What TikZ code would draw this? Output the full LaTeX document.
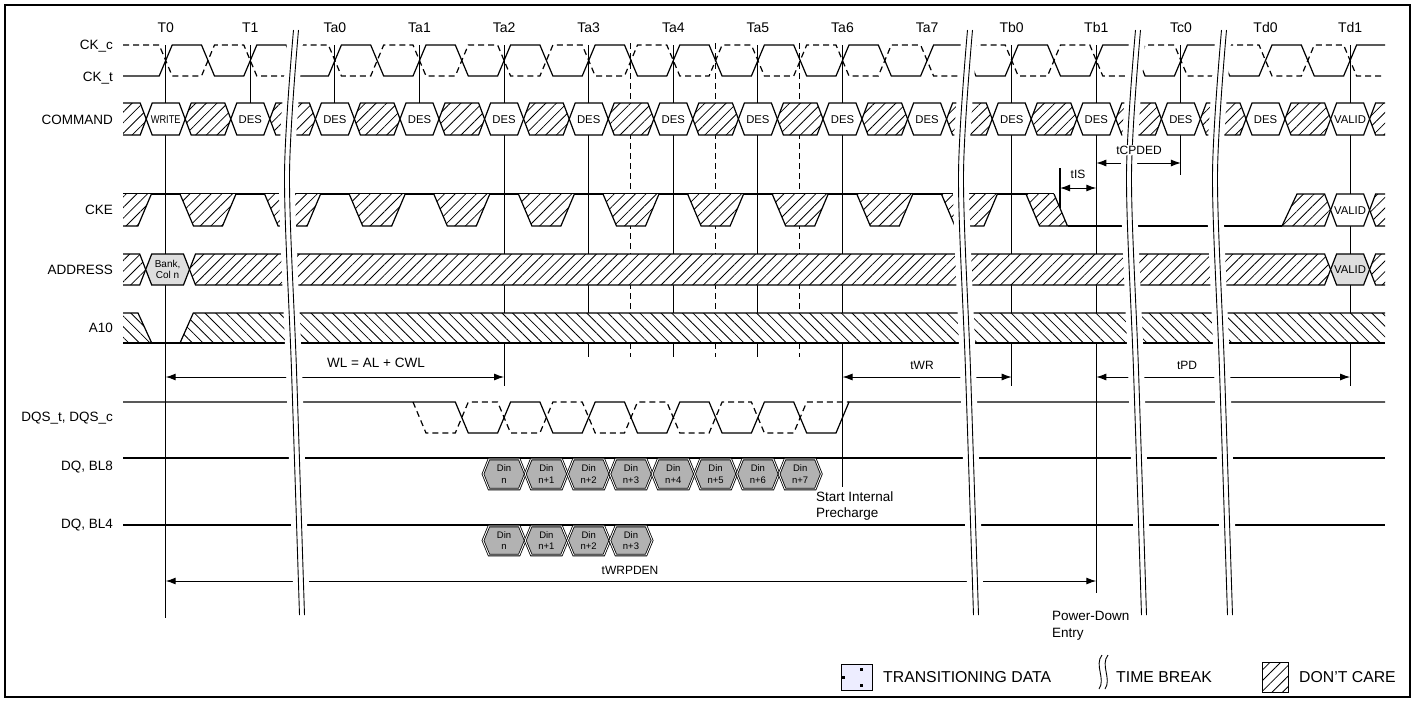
\documentclass[tikz,border=0pt]{standalone}
\usepackage{fontspec}
\setmainfont{Liberation Sans}
\usetikzlibrary{arrows.meta, patterns.meta, positioning, calc}
\colorlet{valgray}{black!13}
\colorlet{dingray}{black!30}
\colorlet{tdfill}{blue!7!white}
\newcommand{\tzero}{165.7}
\newcommand{\tper}{84.6}
\newcommand{\thalf}{42.3}
\newcommand{\ramp}{6.5}
\newcommand{\bslant}{6}
\newcommand{\wrtlbl}{\scalebox{0.82}[1]{WRITE}}
\newcommand{\bushex}[5]{%
  \path[#5] (#1,{(#3+#4)/2}) -- ({#1+\bslant},#3) -- ({#2-\bslant},#3)
    -- (#2,{(#3+#4)/2}) -- ({#2-\bslant},#4) -- ({#1+\bslant},#4) -- cycle;}
\newcommand{\timebreak}[1]{%
  \draw[white, line width=16pt] plot[smooth] coordinates {({#1+9},30) (#1,175) ({#1+7},370) ({#1+15},615)};
  \draw[brk, xshift=-2.5pt] plot[smooth] coordinates {({#1+9},30) (#1,175) ({#1+7},370) ({#1+15},615)};
  \draw[brk, xshift=2.5pt] plot[smooth] coordinates {({#1+9},30) (#1,175) ({#1+7},370) ({#1+15},615)};}

\begin{document}
\begin{tikzpicture}[x=1pt, y=-1pt,
    sig/.style={line width=1.2pt},
    ckc/.style={sig, dash pattern=on 6pt off 4pt},
    dc/.style={preaction={fill=white}, pattern={Lines[angle=45, distance=7.5pt, line width=0.8pt]}},
    dcb/.style={preaction={fill=white}, pattern={Lines[angle=-45, distance=7.5pt, line width=0.8pt]}},
    tick/.style={line width=1.1pt},
    midtick/.style={line width=1pt, dash pattern=on 6pt off 4pt},
    brk/.style={line width=0.9pt},
    dinhex/.style={draw, line width=0.8pt, double=white, double distance=0.9pt, fill=dingray},
    dim/.style={line width=1pt, {Latex[length=10pt,width=7pt]}-{Latex[length=10pt,width=7pt]}},
    rowlbl/.style={anchor=east, font=\fontsize{13.5}{15}\selectfont, inner sep=0pt, text height=9.7pt, text depth=0pt},
    tlbl/.style={font=\fontsize{14}{16}\selectfont, inner sep=0pt, text height=10pt, text depth=0pt},
    cmdtxt/.style={font=\fontsize{11.3}{12}\selectfont, inner sep=0pt, text height=8.1pt, text depth=0pt},
    smalltxt/.style={font=\fontsize{10}{11}\selectfont, align=center, inner sep=0pt},
    dintxt/.style={font=\fontsize{9.5}{11.5}\selectfont, align=center, inner sep=0pt},
    tmtxt/.style={font=\fontsize{12}{14}\selectfont, inner sep=0pt, text height=8.8pt, text depth=0pt},
    note/.style={font=\fontsize{13.5}{16.5}\selectfont, align=left, anchor=west, inner sep=0pt},
    lgd/.style={font=\fontsize{15.8}{18}\selectfont, anchor=west, inner sep=0pt, text height=11.3pt, text depth=0pt}]
  \useasboundingbox (0,0) rectangle (1417,702);

  % clock edges and names
  \foreach \n/\l [count=\i from 0] in {t0/T0, t1/T1, ta0/Ta0, ta1/Ta1, ta2/Ta2, ta3/Ta3, ta4/Ta4,
      ta5/Ta5, ta6/Ta6, ta7/Ta7, tb0/Tb0, tb1/Tb1, tc0/Tc0, td0/Td0, td1/Td1} {
    \coordinate (\n) at ({\tzero+\i*\tper},45);
  }
  \coordinate (lvl-wl) at (0,377);
  \coordinate (lvl-cp) at (0,163);
  \coordinate (lvl-is) at (0,188);
  \coordinate (lvl-pd) at (0,581);
  \coordinate (tis-top) at (1060,168);

  % reference lines
  \foreach \n/\len in {t0/573, t1/58, ta0/58, ta1/58, ta2/341, ta3/312, ta4/312, ta5/312,
      ta6/442, tb0/341, tb1/548, tc0/130, td1/341}
    \draw[tick] (\n) -- ++(0,\len);
  \foreach \a in {5.5,6.5,7.5}
    \draw[midtick] ({\tzero+\a*\tper-0.3},43) -- ++(0,314);
  \draw[tick] (tis-top) -- ++(0,40);

  % row labels
  \node[rowlbl] (lbl-ckc) at (113,45) {CK\_c};
  \node[rowlbl] (lbl-ckt) at (113,77) {CK\_t};
  \node[rowlbl] (lbl-cmd) at (113,120) {COMMAND};
  \node[rowlbl] (lbl-cke) at (113,210) {CKE};
  \node[rowlbl] (lbl-addr) at (113,270) {ADDRESS};
  \node[rowlbl] (lbl-a10) at (113,328) {A10};
  \node[rowlbl] (lbl-dqs) at (113,417) {DQS\_t, DQS\_c};
  \node[rowlbl] (lbl-bl8) at (113,466) {DQ, BL8};
  \node[rowlbl] (lbl-bl4) at (113,524) {DQ, BL4};

  % CK_t / CK_c
  \draw[sig] (123,76) \foreach \i in {0,...,13} {
      -- ({\tzero+\i*\tper-\ramp},76) -- ({\tzero+\i*\tper+\ramp},45)
      -- ({\tzero+\i*\tper+\thalf-\ramp},45) -- ({\tzero+\i*\tper+\thalf+\ramp},76) }
    -- ({\tzero+14*\tper-\ramp},76) -- ({\tzero+14*\tper+\ramp},45) -- (1385,45);
  \draw[ckc] (123,45) \foreach \i in {0,...,13} {
      -- ({\tzero+\i*\tper-\ramp},45) -- ({\tzero+\i*\tper+\ramp},76)
      -- ({\tzero+\i*\tper+\thalf-\ramp},76) -- ({\tzero+\i*\tper+\thalf+\ramp},45) }
    -- ({\tzero+14*\tper-\ramp},45) -- ({\tzero+14*\tper+\ramp},76) -- (1385,76);

  % COMMAND
  \path[dc] (123,103) -- (140.2,103) -- (146.2,119) -- (140.2,135) -- (123,135) -- cycle;
  \draw[sig] (123,103) -- (140.2,103) -- (146.2,119) -- (140.2,135) -- (123,135);
  \foreach \lab [count=\i from 0] in {\wrtlbl,DES,DES,DES,DES,DES,DES,DES,DES,DES,DES,DES,DES,DES,VALID} {
    \pgfmathsetmacro\xc{\tzero+\i*\tper}
    \bushex{\xc-19.5}{\xc+19.5}{103}{135}{sig, draw, fill=white}
    \node[cmdtxt] (cmd\i) at (\xc,119) {\lab};
    \ifnum\i<14
      \bushex{\xc+19.5}{\xc+\tper-19.5}{103}{135}{sig, draw, dc}
    \fi
  }
  \path[dc] (1385,103) -- (1375.6,103) -- (1369.6,119) -- (1375.6,135) -- (1385,135) -- cycle;
  \draw[sig] (1385,103) -- (1375.6,103) -- (1369.6,119) -- (1375.6,135) -- (1385,135);

  % CKE
  \draw[sig] (123,194) -- ({\tzero+10*\tper+\thalf},194);
  \path[dc] (123,194) -- (151.4,194) -- (137.9,226) -- (123,226) -- cycle;
  \draw[sig] (151.4,194) -- (137.9,226) -- (123,226);
  \foreach \i in {0,...,9} {
    \pgfmathsetmacro\xm{\tzero+\i*\tper+\thalf}
    \draw[sig, dc] ({\xm-28},194) -- ({\xm-14.5},226) -- ({\xm+14.5},226) -- ({\xm+28},194);
  }
  \pgfmathsetmacro\xm{\tzero+10*\tper+\thalf}
  \draw[sig, dc] ({\xm-28},194) -- ({\xm-14.5},226) -- ({\xm+13.5},226) -- (\xm,194);
  \draw[sig] ({\xm+13.5},226) -- (1282,226);
  \draw[sig, dc] (1282,226) -- (1297,194) -- (1324.6,194) -- (1330.6,210) -- (1324.6,226) -- cycle;
  \bushex{1330.6}{1369.6}{194}{226}{sig, draw, fill=white}
  \node[cmdtxt] (ckevalid) at (1350.1,210) {VALID};
  \path[dc] (1385,194) -- (1375.6,194) -- (1369.6,210) -- (1375.6,226) -- (1385,226) -- cycle;
  \draw[sig] (1385,194) -- (1375.6,194) -- (1369.6,210) -- (1375.6,226) -- (1385,226);

  % ADDRESS
  \path[dc] (123,254) -- (139.7,254) -- (145.7,269.5) -- (139.7,285) -- (123,285) -- cycle;
  \draw[sig] (123,254) -- (139.7,254) -- (145.7,269.5) -- (139.7,285) -- (123,285);
  \bushex{145.7}{189.5}{254}{285}{sig, draw, fill=valgray}
  \node[smalltxt] (bankcol) at (167.6,269.5) {Bank,\\Col n};
  \bushex{189.5}{1330.6}{254}{285}{sig, draw, dc}
  \bushex{1330.6}{1369.6}{254}{285}{sig, draw, fill=valgray}
  \node[cmdtxt] (addrvalid) at (1350.1,269.5) {VALID};
  \path[dc] (1385,254) -- (1375.6,254) -- (1369.6,269.5) -- (1375.6,285) -- (1385,285) -- cycle;
  \draw[sig] (1385,254) -- (1375.6,254) -- (1369.6,269.5) -- (1375.6,285) -- (1385,285);

  % A10
  \path[dcb] (123,313) -- (138,313) -- (151.7,343) -- (123,343) -- cycle;
  \draw[sig] (123,313) -- (138,313) -- (151.7,343);
  \path[dcb] (180,343) -- (193.3,313) -- (1385,313) -- (1385,343) -- cycle;
  \draw[sig] (180,343) -- (193.3,313) -- (1385,313);
  \draw[sig] (123,343) -- (1385,343);

  % DQS_t / DQS_c
  \draw[sig] (123,402) -- ({\tzero+7*\thalf-\ramp},402)
    \foreach \j in {0,2,4,6} {
      -- ({\tzero+(7+\j)*\thalf+\ramp},433) -- ({\tzero+(8+\j)*\thalf-\ramp},433)
      -- ({\tzero+(8+\j)*\thalf+\ramp},402) -- ({\tzero+(9+\j)*\thalf-\ramp},402) }
    -- ({\tzero+15*\thalf+\ramp},433) -- ({\tzero+16*\thalf-\ramp},433)
    -- ({\tzero+16*\thalf+\ramp},402) -- (1385,402);
  \draw[ckc] ({\tzero+6*\thalf-\ramp},402) -- ({\tzero+6*\thalf+\ramp},433) -- ({\tzero+7*\thalf-\ramp},433)
    \foreach \j in {0,2,4,6} {
      -- ({\tzero+(7+\j)*\thalf+\ramp},402) -- ({\tzero+(8+\j)*\thalf-\ramp},402)
      -- ({\tzero+(8+\j)*\thalf+\ramp},433) -- ({\tzero+(9+\j)*\thalf-\ramp},433) }
    -- ({\tzero+15*\thalf+\ramp},402) -- ({\tzero+16*\thalf+\ramp},402);

  % DQ
  \draw[sig] (123,458) -- (1385,458);
  \draw[sig] (123,525) -- (1385,525);
  \foreach \k/\lab in {0/n, 1/n+1, 2/n+2, 3/n+3, 4/n+4, 5/n+5, 6/n+6, 7/n+7} {
    \pgfmathsetmacro\xc{\tzero+(8+\k)*\thalf}
    \bushex{\xc-\thalf/2}{\xc+\thalf/2}{459}{489}{dinhex}
    \node[dintxt] (bl8-\k) at (\xc,474) {Din\\\lab};
  }
  \foreach \k/\lab in {0/n, 1/n+1, 2/n+2, 3/n+3} {
    \pgfmathsetmacro\xc{\tzero+(8+\k)*\thalf}
    \bushex{\xc-\thalf/2}{\xc+\thalf/2}{526}{555}{dinhex}
    \node[dintxt] (bl4-\k) at (\xc,540.5) {Din\\\lab};
  }

  % timing
  \draw[dim] (t0 |- lvl-wl) -- (ta2 |- lvl-wl);
  \draw[dim] (ta6 |- lvl-wl) -- (tb0 |- lvl-wl);
  \draw[dim] (tb1 |- lvl-wl) -- (td1 |- lvl-wl);
  \draw[dim] (tb1 |- lvl-cp) -- (tc0 |- lvl-cp);
  \draw[dim] (tis-top |- lvl-is) -- (tb1 |- lvl-is);
  \draw[dim] (t0 |- lvl-pd) -- (tb1 |- lvl-pd);

  % time breaks
  \timebreak{287}
  \timebreak{961}
  \timebreak{1129}
  \timebreak{1215}

  \foreach \n/\l in {t0/T0, t1/T1, ta0/Ta0, ta1/Ta1, ta2/Ta2, ta3/Ta3, ta4/Ta4,
      ta5/Ta5, ta6/Ta6, ta7/Ta7, tb0/Tb0, tb1/Tb1, tc0/Tc0, td0/Td0, td1/Td1}
    \node[tlbl] (lbl-\n) at (\n |- 0,27) {\l};

  \node[font=\fontsize{13.5}{15}\selectfont, inner sep=0pt] (wl) at (376,363) {WL = AL + CWL};
  \node[tmtxt] (twr) at (922,365) {tWR};
  \node[tmtxt] (tpd) at (1187,365) {tPD};
  \node[tmtxt, fill=white, inner sep=1pt] (tcpded) at (1139,150) {tCPDED};
  \node[tmtxt] (tis) at (1078,174) {tIS};
  \node[tmtxt] (twrpden) at (630,570) {tWRPDEN};
  \node[note] (precharge) at (816,506) {Start Internal\\Precharge};
  \node[note] (pde) at (1052,625.5) {Power-Down\\Entry};

  % legend
  \draw[line width=1pt, fill=tdfill] (841,664) rectangle (872,690);
  \fill (841.5,675.5) rectangle ++(3,3);
  \fill (859.5,667.5) rectangle ++(3,3);
  \fill (859.5,683.5) rectangle ++(3,3);
  \node[lgd] (lgd-td) at (883,677) {TRANSITIONING DATA};
  \draw[line width=0.9pt] (1102,655) .. controls (1094,665) and (1106,679) .. (1099,689);
  \draw[line width=0.9pt] (1108,655) .. controls (1100,665) and (1112,679) .. (1105,689);
  \node[lgd] (lgd-tb) at (1116,677) {TIME BREAK};
  \draw[line width=1pt, dc] (1262,662) rectangle (1288,692);
  \node[lgd] (lgd-dc) at (1299,677) {DON'T CARE};

  \draw[line width=2pt] (5,5) rectangle (1410,697);
\end{tikzpicture}
\end{document}
